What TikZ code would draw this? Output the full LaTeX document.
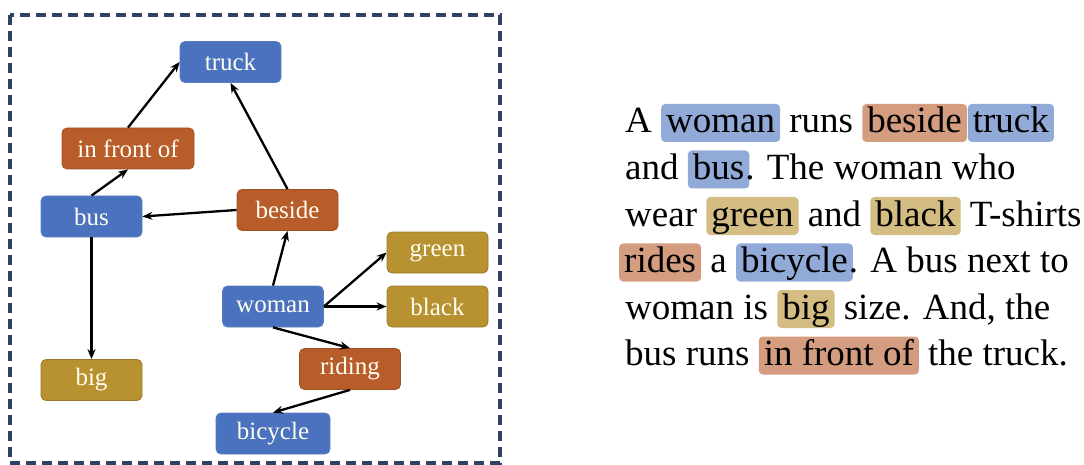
\documentclass[tikz,border=0pt]{standalone}
\usepackage{fontspec}
\setmainfont{Liberation Serif}
\usetikzlibrary{arrows.meta}
\definecolor{nblue}{HTML}{4A72BE}
\definecolor{nblueb}{HTML}{5B7EC0}
\definecolor{norange}{HTML}{B85C2A}
\definecolor{norangeb}{HTML}{9E4F24}
\definecolor{ngold}{HTML}{B89130}
\definecolor{ngoldb}{HTML}{9A7A28}
\definecolor{frame}{HTML}{2E4266}
\colorlet{hb}{nblue!60!white}
\colorlet{ho}{norange!60!white}
\colorlet{hg}{ngold!60!white}
\newcommand\hlword[2]{\tikz[baseline=(hw.base)]\node[fill=#1,rounded corners=4pt,inner xsep=5pt,inner ysep=0pt,text height=29pt,text depth=9pt,anchor=base] (hw) {#2};}
\tikzset{
  gbox/.style={rounded corners=5pt, minimum width=101pt, minimum height=41pt, inner sep=0pt,
    text=white!95!yellow, font=\fontsize{25}{29}\selectfont, line width=0.8pt},
  ent/.style={gbox, fill=nblue, draw=nblueb},
  rel/.style={gbox, fill=norange, draw=norangeb},
  att/.style={gbox, fill=ngold, draw=ngoldb},
  arr/.style={-{Stealth[length=10pt,width=8pt]}, line width=2.3pt, black},
  dashframe/.style={draw=frame, line width=3.4pt, dash pattern=on 10pt off 6pt},
  txt/.style={anchor=base west, inner sep=0pt, font=\fontsize{37}{44}\selectfont}
}
\begin{document}
\begin{tikzpicture}[x=1pt,y=-1pt]
\useasboundingbox (0,0) rectangle (1084,465);
\draw[dashframe] (10,15) rectangle (500,463);

\node[ent] (truck) at (230.5,62) {truck};
\node[rel, minimum width=132pt] (ifo) at (128,148.5) {in front of};
\node[ent] (bus) at (91.5,216.5) {bus};
\node[rel] (beside) at (287.5,210) {beside};
\node[att] (green) at (437.5,252.5) {green};
\node[ent] (woman) at (273,306.5) {woman};
\node[att] (black) at (437.5,306.5) {black};
\node[rel] (riding) at (350,369) {riding};
\node[att] (big) at (91.5,380) {big};
\node[ent, minimum width=114pt] (bicycle) at (273,433.5) {bicycle};

\draw[arr] (bus.north) -- (ifo.south);
\draw[arr] (ifo.north) -- (truck.west);
\draw[arr] (beside.north) -- (truck.south);
\draw[arr] (beside.west) -- (bus.east);
\draw[arr] (woman.north) -- (beside.south);
\draw[arr] (woman.east) -- (green.west);
\draw[arr] (woman.east) -- (black.west);
\draw[arr] (woman.south) -- (riding.north);
\draw[arr] (riding.south) -- (bicycle.north);
\draw[arr] (bus.south) -- (big.north);

\node[txt] (l1) at (625,133) {A \hlword{hb}{woman} runs \hlword{ho}{beside}\hspace{1pt}\hlword{hb}{truck}};
\node[txt] (l2) at (625,179.5) {and \hlword{hb}{bus}\hspace{-4pt}. The woman who};
\node[txt] (l3) at (625,226) {wear \hlword{hg}{green} and \hlword{hg}{black} T-shirts};
\node[txt] (l4) at (619,272.5) {\hlword{ho}{rides} a \hlword{hb}{bicycle}\hspace{-4pt}. A bus next to};
\node[txt] (l5) at (625,319) {woman is \hlword{hg}{big} size. And, the};
\node[txt] (l6) at (625,365.5) {bus runs \hlword{ho}{in front of} the truck.};
\end{tikzpicture}
\end{document}
